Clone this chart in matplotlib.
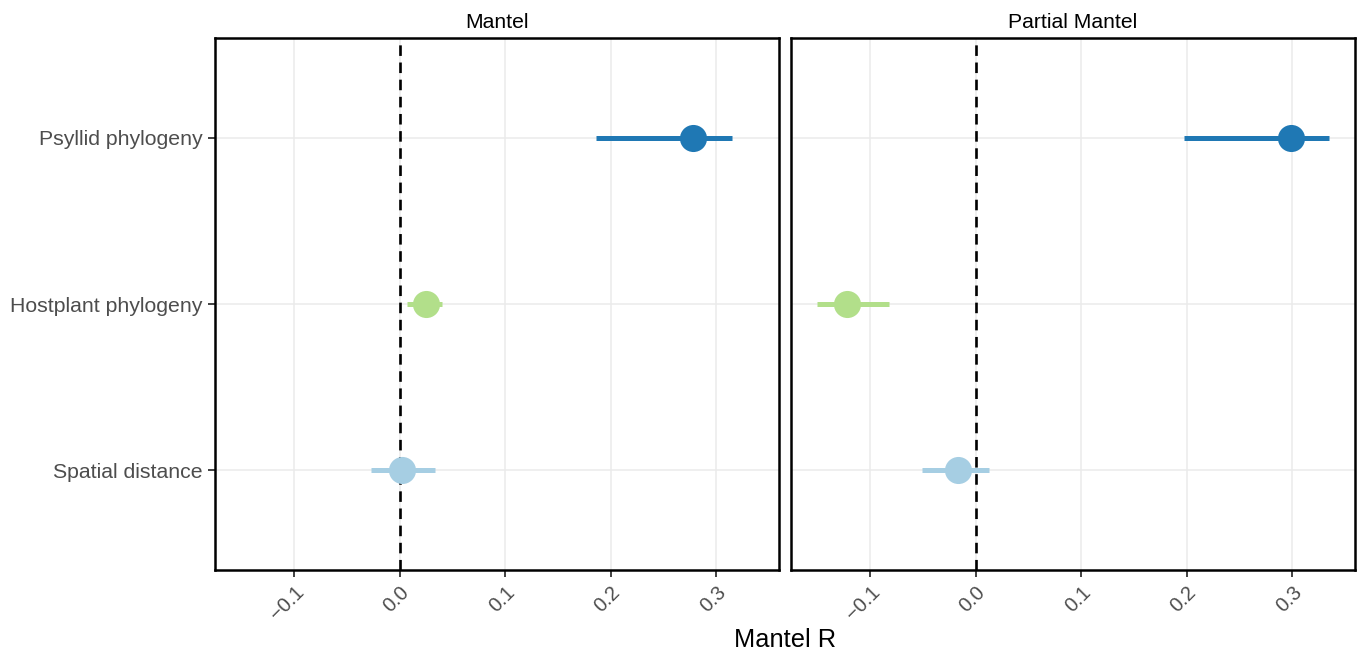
import matplotlib
matplotlib.use("Agg")
import matplotlib.pyplot as plt

plt.rcParams['font.family'] = ['Liberation Sans', 'DejaVu Sans']

# datos
variables = ["Spatial distance", "Hostplant phylogeny", "Psyllid phylogeny"]
colores = ["#A6CEE3", "#B2DF8A", "#1F78B4"]
paneles = ["Mantel", "Partial Mantel"]

mantel_r = [0.002, 0.025, 0.278]
mantel_lo = [-0.027, 0.007, 0.186]
mantel_hi = [0.034, 0.040, 0.315]

parcial_r = [-0.017, -0.122, 0.299]
parcial_lo = [-0.051, -0.150, 0.198]
parcial_hi = [0.013, -0.082, 0.335]

ticks_x = [-0.1, 0.0, 0.1, 0.2, 0.3]
etiquetas_x = ["\u22120.1", "0.0", "0.1", "0.2", "0.3"]

W, H = 1357, 653
fig = plt.figure(figsize=(W / 100, H / 100), dpi=100)

izq = [215, 791]
ancho = 564
arriba, abajo = 38, 570

datos = [(mantel_r, mantel_lo, mantel_hi), (parcial_r, parcial_lo, parcial_hi)]

for i, (r, lo, hi) in enumerate(datos):
    ax = fig.add_axes([izq[i] / W, 1 - abajo / H, ancho / W, (abajo - arriba) / H])
    ax.set_xlim(-0.1751, 0.3598)
    ax.set_ylim(-0.6, 2.6)
    for x in ticks_x:
        ax.axvline(x, color="#EBEBEB", lw=1.1, zorder=0)
    for y in range(len(variables)):
        ax.axhline(y, color="#EBEBEB", lw=1.1, zorder=0)
    ax.axvline(0, color="black", lw=1.9, ls=(0, (4, 2.5)), zorder=1)
    for y in range(len(variables)):
        ax.plot([lo[y], hi[y]], [y, y], color=colores[y], lw=3.6,
                solid_capstyle="butt", zorder=2)
        ax.plot(r[y], y, "o", color=colores[y], ms=19.5, mec="none", zorder=3)
    ax.set_xticks(ticks_x)
    ax.set_xticklabels(etiquetas_x, rotation=45, ha="right", va="top",
                       rotation_mode="anchor", fontsize=14.5, color="#4D4D4D")
    ax.set_yticks(range(len(variables)))
    if i == 0:
        ax.set_yticklabels(variables, fontsize=15.3, color="#4D4D4D")
    else:
        ax.set_yticklabels([])
    ax.tick_params(axis="both", direction="out", width=1.3, length=5,
                   color="#333333", pad=4)
    if i == 1:
        ax.tick_params(axis="y", length=0)
    for s in ax.spines.values():
        s.set_linewidth(1.8)
        s.set_color("black")
    ax.set_title(paneles[i], fontsize=15.2, pad=7)

fig.text((215 + 1355) / 2 / W, 1 - 647 / H, "Mantel R", ha="center", va="baseline",
         fontsize=18.3)

plt.savefig("out.png", dpi=100)
